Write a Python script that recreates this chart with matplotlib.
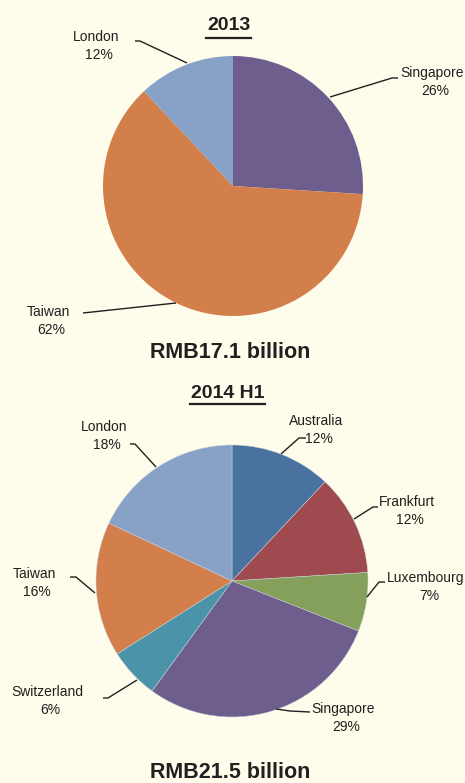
import matplotlib
matplotlib.use("Agg")
import matplotlib.pyplot as plt
import numpy as np

plt.rcParams['font.family'] = ['Liberation Sans', 'DejaVu Sans']

# 2013 breakdown
labels_2013 = ["Singapore", "Taiwan", "London"]
values_2013 = [26, 62, 12]
colors_2013 = ["#6e5e8e", "#d27f4b", "#88a1c6"]
total_2013 = "RMB17.1 billion"

# 2014 H1 breakdown
labels_2014 = ["Australia", "Frankfurt", "Luxembourg", "Singapore",
               "Switzerland", "Taiwan", "London"]
values_2014 = [12, 12, 7, 29, 6, 16, 18]
colors_2014 = ["#4a72a0", "#9e4a4e", "#84a05a", "#6e5e8e",
               "#4a93a8", "#d27f4b", "#88a1c6"]
total_2014 = "RMB21.5 billion"

W, H = 465, 783
BG = "#fefcea"
INK = "#231f20"

fig = plt.figure(figsize=(W / 100, H / 100), dpi=100, facecolor=BG)
ax = fig.add_axes([0, 0, 1, 1])
ax.set_facecolor(BG)


def Y(y):
    # convert top-down pixel row into axis coordinate
    return H - y


def draw_pie(values, colors, cx, cy, r, edge):
    ax.pie(values, colors=colors, startangle=90, counterclock=False,
           center=(cx, Y(cy)), radius=r,
           wedgeprops=dict(linewidth=0.35 if edge else 0,
                           edgecolor="#c9d2dc" if edge else "none"))


def label(name, pct, x, y, line):
    ax.text(x, Y(y), name, ha="center", va="center", fontsize=10, color=INK)
    ax.text(x + 3, Y(y + 18), f"{pct}%", ha="center", va="center",
            fontsize=10, color=INK)
    xs = [p[0] for p in line]
    ys = [Y(p[1]) for p in line]
    ax.plot(xs, ys, color=INK, lw=1.0, solid_capstyle="butt")


def heading(text, x, y, x0, x1, uy):
    ax.text(x, Y(y), text, ha="center", va="center", fontsize=14,
            fontweight="bold", color=INK)
    ax.plot([x0, x1], [Y(uy), Y(uy)], color=INK, lw=1.6)


# 2013 pie
heading("2013", 229, 26, 206, 251, 38)
draw_pie(values_2013, colors_2013, 233, 186, 130, False)
label("London", values_2013[2], 96, 37, [(135, 41), (140, 41), (187, 63)])
label("Singapore", values_2013[0], 432, 73, [(398, 78), (392, 78), (330, 97)])
label("Taiwan", values_2013[1], 48, 312, [(83, 313), (176, 303)])
ax.text(230, Y(352), total_2013, ha="center", va="center", fontsize=15.5,
        fontweight="bold", color=INK)

# 2014 H1 pie
heading("2014 H1", 228, 393, 190, 265, 404)
draw_pie(values_2014, colors_2014, 232, 581, 136, True)
label("London", values_2014[6], 104, 427,
      [(130, 444), (135, 444), (156, 467)])
label("Australia", values_2014[0], 316, 421,
      [(306, 438), (299, 438), (281, 454)])
label("Frankfurt", values_2014[1], 407, 502,
      [(378, 507), (373, 507), (354, 519)])
label("Luxembourg", values_2014[2], 426, 578,
      [(385, 582), (379, 582), (367, 597)])
label("Singapore", values_2014[3], 343, 709,
      [(310, 712), (290, 711), (276, 709)])
label("Switzerland", values_2014[4], 47, 692,
      [(103, 698), (108, 698), (137, 680)])
label("Taiwan", values_2014[5], 34, 574,
      [(70, 577), (76, 577), (95, 593)])
ax.text(230, Y(773), total_2014, ha="center", va="center", fontsize=15.5,
        fontweight="bold", color=INK)

ax.set_xlim(0, W)
ax.set_ylim(0, H)
ax.set_aspect("auto")
ax.axis("off")

fig.savefig("out.png", dpi=100, facecolor=BG)
